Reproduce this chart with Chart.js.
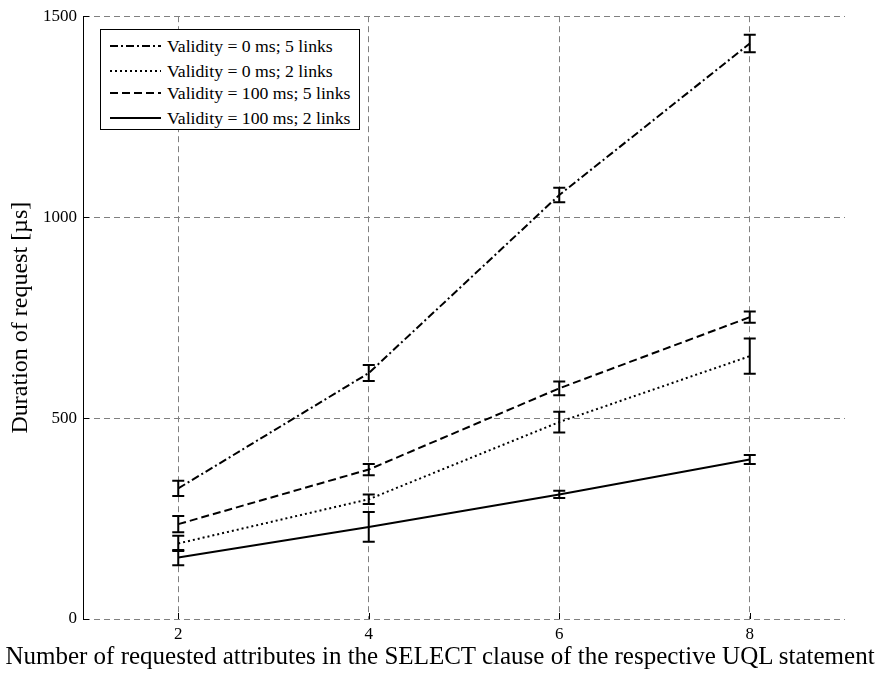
<!DOCTYPE html>
<html>
<head>
<meta charset="utf-8">
<script src="https://cdn.jsdelivr.net/npm/chart.js@4/dist/chart.umd.min.js"></script>
<style>
  body { margin: 0; background: #fff; }
  #wrap { position: relative; width: 880px; height: 673px; }
  #legend {
    position: absolute; left: 100px; top: 29px; width: 258px; height: 99px;
    border: 1.5px solid #000; background: #fff;
    font-family: "Liberation Serif", "Times New Roman", serif; font-size: 17.7px; color: #000;
  }
  .row { position: absolute; left: 0; height: 20px; display: flex; align-items: center; white-space: nowrap; }
  .row svg { margin-left: 9px; margin-right: 6px; }
  #xtitle {
    position: absolute; left: 0; width: 880px; top: 641px; text-align: center; white-space: nowrap;
    font-family: "Liberation Serif", "Times New Roman", serif; font-size: 25px; line-height: 30px; color: #000;
  }
</style>
</head>
<body>
<div id="wrap">
  <canvas id="chart" width="880" height="673"></canvas>
  <div id="legend"></div>
  <div id="xtitle">Number of requested attributes in the SELECT clause of the respective UQL statement</div>
</div>
<script>
// x positions (number of attributes) and tick labels
const attributes = [2, 4, 6, 8];
const xTicks = [2, 4, 6, 8];
const yTicks = [0, 500, 1000, 1500];

const seriesLabels = [
  'Validity = 0 ms; 5 links',
  'Validity = 0 ms; 2 links',
  'Validity = 100 ms; 5 links',
  'Validity = 100 ms; 2 links',
];

// mean duration [µs]
const v0ms5links = [325, 612, 1055, 1432];
const v0ms2links = [188, 298, 490, 654];
const v100ms5links = [236, 372, 574, 751];
const v100ms2links = [153, 229, 310, 397];

// half length of the error bars
const err0ms5links = [19, 20, 18, 22];
const err0ms2links = [19, 12, 26, 44];
const err100ms5links = [20, 14, 17, 14];
const err100ms2links = [19, 37, 9, 11];

const seriesValues = [v0ms5links, v0ms2links, v100ms5links, v100ms2links];
const seriesErrors = [err0ms5links, err0ms2links, err100ms5links, err100ms2links];
const dashes = [[8, 3, 2, 3], [2, 3], [8, 4], []];

const serif = '"Liberation Serif", "Times New Roman", serif';

const errorBars = {
  id: 'errorBars',
  afterDatasetsDraw(chart) {
    const { ctx, scales: { x, y } } = chart;
    ctx.save();
    ctx.strokeStyle = '#000';
    ctx.lineWidth = 2;
    ctx.setLineDash([]);
    seriesValues.forEach((values, i) => {
      values.forEach((v, j) => {
        const px = x.getPixelForValue(attributes[j]);
        const top = y.getPixelForValue(v + seriesErrors[i][j]);
        const bot = y.getPixelForValue(v - seriesErrors[i][j]);
        ctx.beginPath();
        ctx.moveTo(px, top); ctx.lineTo(px, bot);
        ctx.moveTo(px - 6, top); ctx.lineTo(px + 6, top);
        ctx.moveTo(px - 6, bot); ctx.lineTo(px + 6, bot);
        ctx.stroke();
      });
    });
    ctx.restore();
  },
};

// short inward tick marks like the original plot
const innerTicks = {
  id: 'innerTicks',
  afterDraw(chart) {
    const { ctx, chartArea, scales: { x, y } } = chart;
    ctx.save();
    ctx.strokeStyle = '#000';
    ctx.lineWidth = 1;
    ctx.beginPath();
    yTicks.forEach((t) => {
      const py = Math.round(y.getPixelForValue(t)) + 0.5;
      ctx.moveTo(chartArea.left, py); ctx.lineTo(chartArea.left + 6, py);
    });
    xTicks.forEach((t) => {
      const px = Math.round(x.getPixelForValue(t)) + 0.5;
      ctx.moveTo(px, chartArea.bottom); ctx.lineTo(px, chartArea.bottom - 6);
    });
    ctx.stroke();
    ctx.restore();
  },
};

const datasets = seriesValues.map((values, i) => ({
  label: seriesLabels[i],
  data: values.map((v, j) => ({ x: attributes[j], y: v })),
  borderColor: '#000',
  backgroundColor: '#000',
  borderWidth: 2,
  borderDash: dashes[i],
  pointRadius: 0,
  fill: false,
  tension: 0,
}));

new Chart(document.getElementById('chart'), {
  type: 'line',
  data: { datasets },
  options: {
    responsive: false,
    animation: false,
    layout: { padding: { top: 16, right: 35, left: 0, bottom: 0 } },
    plugins: { legend: { display: false }, tooltip: { enabled: false } },
    scales: {
      x: {
        type: 'linear',
        min: 1,
        max: 9,
        afterBuildTicks: (scale) => { scale.ticks = xTicks.map((v) => ({ value: v })); },
        afterFit: (scale) => { scale.height = 54; },
        grid: { color: '#808080', lineWidth: 1, drawTicks: false },
        border: { display: false, dash: [6, 4] },
        ticks: { color: '#000', padding: 5, font: { family: serif, size: 17 }, callback: (v) => String(v) },
      },
      y: {
        min: 0,
        max: 1500,
        afterBuildTicks: (scale) => { scale.ticks = yTicks.map((v) => ({ value: v })); },
        afterFit: (scale) => { scale.width = 83; },
        grid: { color: '#808080', lineWidth: 1, drawTicks: false },
        border: { display: true, color: '#000', width: 1, dash: [6, 4] },
        ticks: { color: '#000', padding: 6, font: { family: serif, size: 17 }, callback: (v) => String(v) },
        title: {
          display: true,
          text: 'Duration of request [µs]',
          color: '#000',
          font: { family: serif, size: 24 },
          padding: { top: 6, bottom: 0 },
        },
      },
    },
  },
  plugins: [errorBars, innerTicks],
});

// legend box in the upper left corner
const legendEl = document.getElementById('legend');
const rowTops = [6, 31, 53, 78];
seriesLabels.forEach((label, i) => {
  const row = document.createElement('div');
  row.className = 'row';
  row.style.top = rowTops[i] + 'px';
  const dash = dashes[i].length ? dashes[i].join(' ') : 'none';
  row.innerHTML = `<svg width="51" height="6"><line x1="0" y1="3" x2="51" y2="3" stroke="#000" stroke-width="2" stroke-dasharray="${dash}"/></svg><span>${label}</span>`;
  legendEl.appendChild(row);
});
</script>
</body>
</html>
